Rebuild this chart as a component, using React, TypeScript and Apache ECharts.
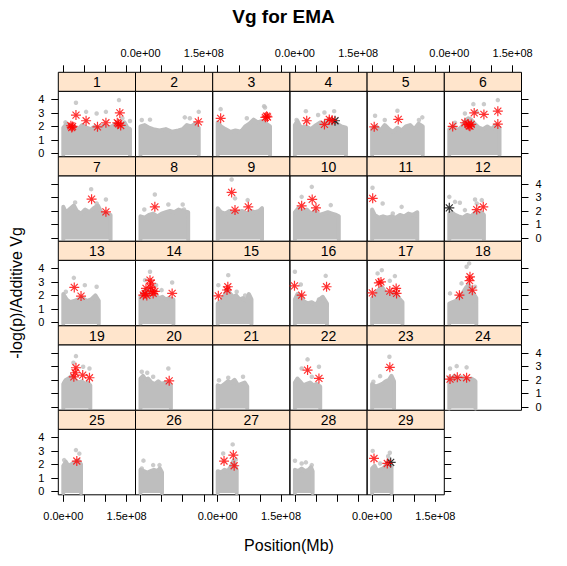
import React, { useEffect, useRef } from "react";
import * as echarts from "echarts";

// ---------------- data (positions in Mb, values are -log10(p)) ----------------
const chromosomes = ["1","2","3","4","5","6","7","8","9","10","11","12","13","14","15","16","17","18","19","20","21","22","23","24","25","26","27","28","29"];
const chrLengthMb = [158,138,124,121,120,119,112,113,105,104,107,82,84,78,80,76,72,64,64,72,70,60,52,62,42,51,45,42,46];

// top envelope of the dense cloud of SNPs, per chromosome
const massTop = [
  [[0,1.9],[8,2.2],[15,1.9],[25,2.0],[35,1.8],[45,2.1],[55,1.9],[65,1.8],[75,2.0],[85,1.8],[95,2.1],[105,1.9],[115,2.0],[125,2.2],[135,2.0],[145,2.3],[152,1.9],[158,1.8]],
  [[0,2.0],[10,2.1],[20,1.9],[30,1.8],[45,1.7],[60,1.8],[75,1.6],[90,1.7],[100,1.8],[110,2.1],[120,2.0],[130,2.2],[138,1.9]],
  [[0,2.3],[8,2.0],[18,1.8],[30,1.6],[42,1.7],[55,1.6],[65,2.0],[75,2.2],[85,2.5],[95,2.3],[105,2.4],[115,2.2],[124,2.0]],
  [[0,2.1],[6,2.4],[14,1.9],[25,2.0],[38,1.8],[50,2.1],[60,2.3],[70,2.2],[80,2.5],[90,2.4],[100,2.2],[110,2.0],[121,1.9]],
  [[0,1.8],[10,2.0],[20,1.7],[30,2.1],[40,1.8],[50,1.6],[60,1.9],[70,1.7],[80,2.0],[90,2.1],[100,1.8],[110,2.2],[120,2.0]],
  [[0,1.8],[10,2.0],[20,1.7],[30,2.0],[38,2.4],[45,2.6],[52,2.5],[60,2.2],[70,1.9],[80,1.8],[90,2.0],[100,1.8],[110,2.1],[119,1.9]],
  [[0,2.3],[6,1.9],[14,2.1],[25,2.4],[32,2.0],[42,1.8],[52,2.1],[62,1.9],[72,2.2],[82,2.4],[90,1.9],[100,1.8],[112,1.7]],
  [[0,1.6],[10,1.5],[20,1.7],[30,1.8],[40,1.6],[50,1.8],[60,1.9],[70,2.0],[80,1.9],[90,2.1],[100,2.0],[113,1.9]],
  [[0,2.2],[8,1.9],[18,1.8],[28,2.0],[38,1.8],[48,1.9],[58,2.0],[68,1.8],[78,2.0],[88,1.9],[98,2.0],[105,2.2]],
  [[0,1.9],[8,2.2],[18,2.0],[28,2.1],[38,1.8],[48,2.0],[58,1.7],[68,1.8],[78,1.9],[88,1.8],[98,1.7],[104,1.6]],
  [[0,2.1],[6,1.7],[16,1.5],[26,1.6],[36,1.5],[46,1.6],[56,1.5],[66,1.7],[76,1.6],[86,1.8],[96,1.7],[107,1.9]],
  [[0,1.8],[6,1.9],[14,1.7],[22,1.6],[32,1.5],[42,1.7],[52,1.6],[62,1.9],[70,1.8],[76,1.9],[82,1.7]],
  [[0,2.1],[8,1.7],[16,1.5],[26,1.6],[36,1.7],[46,1.8],[56,1.6],[66,1.7],[76,2.0],[84,1.6]],
  [[0,1.9],[6,2.2],[12,2.4],[18,2.3],[24,2.5],[30,2.2],[36,2.0],[44,1.8],[52,1.9],[60,1.7],[68,1.8],[78,1.7]],
  [[0,1.4],[8,1.6],[16,2.0],[22,2.4],[28,2.2],[36,1.9],[44,2.0],[52,1.7],[60,1.8],[68,1.6],[74,2.1],[80,1.7]],
  [[0,1.7],[6,2.1],[12,2.0],[20,1.6],[30,1.4],[40,1.5],[50,1.3],[58,1.7],[66,1.9],[72,1.6],[76,1.4]],
  [[0,1.8],[6,1.9],[12,2.3],[18,2.5],[24,2.6],[30,2.3],[38,2.0],[46,2.1],[54,2.2],[60,2.0],[66,1.7],[72,1.5]],
  [[0,1.4],[8,1.5],[16,1.6],[24,1.9],[32,2.2],[40,2.6],[46,2.8],[52,2.4],[58,2.1],[64,1.8]],
  [[0,1.7],[6,2.0],[12,2.1],[20,2.3],[28,2.0],[36,1.8],[44,1.9],[52,1.7],[58,1.8],[64,1.6]],
  [[0,2.1],[6,2.3],[12,2.0],[18,2.1],[26,1.8],[34,1.7],[42,1.9],[50,1.7],[58,1.8],[66,1.7],[72,1.6]],
  [[0,1.6],[8,1.5],[16,1.7],[24,1.9],[32,1.8],[40,2.0],[48,1.6],[56,1.7],[64,1.8],[70,1.5]],
  [[0,1.8],[6,2.1],[12,1.9],[20,1.6],[28,1.7],[36,1.8],[44,1.6],[52,1.7],[60,1.5]],
  [[0,1.7],[8,1.5],[16,1.6],[24,1.7],[32,1.9],[40,2.0],[46,2.3],[52,1.9]],
  [[0,2.2],[6,2.1],[12,2.3],[20,2.0],[28,2.2],[36,2.1],[44,2.0],[52,2.1],[58,2.0],[62,1.9]],
  [[0,1.9],[6,2.2],[12,1.9],[18,2.0],[24,2.1],[30,2.2],[36,2.3],[42,2.0]],
  [[0,1.6],[8,1.5],[16,1.4],[24,1.5],[32,1.6],[40,1.5],[46,1.7],[51,1.4]],
  [[0,1.5],[8,1.4],[16,1.6],[24,1.5],[32,1.9],[38,2.3],[45,1.6]],
  [[0,1.6],[8,1.5],[16,1.7],[24,1.5],[32,1.6],[38,1.8],[42,1.5]],
  [[0,1.7],[6,1.9],[12,1.5],[18,1.6],[26,1.7],[34,2.0],[40,2.3],[46,1.9]],
];

// isolated grey SNPs above the cloud
const outlierPts = [
  [[30,3.75],[132,3.95],[54,3.08],[79,2.96],[101,3.08],[158,2.4],[5,2.3],[140,2.6]],
  [[3,2.47],[22.5,2.5],[105,2.67],[117,2.6],[138,3.08]],
  [[7,3.28],[110,3.5],[112,3.4],[69,2.6]],
  [[26,3.13],[70,3.03],[93,3.13],[4,2.47],[55,2.84]],
  [[7,2.79],[30,2.47],[60,3.16],[111,2.47],[119,2.67]],
  [[37,2.96],[57,3.65],[82,3.65],[115,3.95],[13.5,2.27],[65,3.08]],
  [[66,3.61],[101,2.85],[79,2.55],[28,2.63]],
  [[34,3.22],[66,2.48],[100,2.48],[9,2.1],[103,2.1]],
  [[33,4.33],[41,2.93],[71,2.8]],
  [[16,3.04],[40,3.78],[85,2.43]],
  [[1,3.71],[25,2.55],[49,1.81],[70,2.3],[106,1.69]],
  [[0,3.04],[13.5,2.67],[25,2.6],[37,2.06],[61,2.85],[65,2.55],[77,2.8]],
  [[25,3.3],[6,2.27],[79,2.64],[51,2.76]],
  [[22.5,3.75],[10.7,3.13],[37,2.76],[50,2.39],[75,2.96]],
  [[25,3.5],[1.5,2.76],[45,2.27],[65,2.0]],
  [[0,3.75],[14,2.81],[73,3.45],[57,1.7]],
  [[23,3.87],[13,3.63],[42,3.08],[54,3.43]],
  [[47,4.37],[41,4.12],[29,2.89],[1.7,2.15],[61,2.64]],
  [[30,3.76],[24,3.27],[47,2.97],[62,2.85],[4,1.86]],
  [[3,2.6],[16,2.53],[66,2.85],[30,2.23]],
  [[3,1.98],[25,2.16],[60,2.23]],
  [[30,3.52],[16,2.85],[57,2.97],[40,2.23]],
  [[41,3.71],[19,2.28],[3,1.86]],
  [[17.5,3.02],[41,2.93],[1.7,2.85]],
  [[30,3.06],[2,2.32],[38,2.8]],
  [[7,2.28],[30,1.95],[45,1.95],[3,1.7]],
  [[35.5,3.48],[13,2.81],[43,2.37]],
  [[0.2,2.27],[16,2.07],[26,2.15],[40,1.95]],
  [[1.4,3.0],[19,2.07],[42,2.86],[38,2.6]],
];

// significant SNPs (red stars)
const starPts = [
  [[30,2.84],[18,2.05],[20,1.92],[22,2.0],[54,2.42],[81,1.97],[101,2.27],[128,2.27],[131,2.2],[134,3.0],[136,2.07]],
  [[137,2.34]],
  [[7,2.6],[113,2.67],[116,2.76],[118,2.7]],
  [[28,2.42],[70,2.15],[81.5,2.52],[88,2.45]],
  [[5,1.97],[62,2.52]],
  [[8,2.0],[37,2.27],[45,2.15],[47,2.05],[49,2.02],[52,2.15],[59,3.0],[82,2.89],[115,3.13],[115,2.17]],
  [[67,2.87],[101,1.93]],
  [[34,2.3]],
  [[33,3.37],[41,2.06],[72.5,2.3]],
  [[16,2.38],[41,2.85],[50,2.23]],
  [[1.4,2.93]],
  [[65,2.1],[80.5,2.3]],
  [[26,2.59],[42,1.95]],
  [[6.6,2.02],[11,2.15],[13,2.52],[15,2.0],[22.5,3.13],[24,2.6],[25,2.9],[29,2.32],[30,2.15],[34,2.3],[75,2.15]],
  [[1.5,1.97],[22,2.4],[24,2.64]],
  [[-1,2.71],[16,2.02],[75,2.64]],
  [[0.5,2.19],[16,2.93],[21,3.0],[42,2.32],[57,2.52],[58,2.15]],
  [[24,2.02],[48,3.1],[49,3.38],[54.5,2.39]],
  [[25,2.23],[28,2.53],[30,2.9],[46,2.36],[62,2.16]],
  [[68,1.93]],
  [],
  [[30,2.73],[57,2.11]],
  [[42,2.93]],
  [[1.7,2.06],[19,2.19],[41,2.16]],
  [[32,2.25]],
  [],
  [[15,2.25],[37,2.69],[39,1.9]],
  [],
  [[4.5,2.44],[36,2.07]],
];

// black stars: [chromosome, Mb, value]
const blackStarPts = [["4",95,2.42],["12",0,2.23],["29",44,2.15]];

const xTicksMb = [0, 50, 100, 150];
const xLabelTicksMb = [0, 150];
const yTicks = [0, 1, 2, 3, 4];

const titleText = "Vg for EMA";
const xTitle = "Position(Mb)";
const yTitle = "-log(p)/Additive Vg";

// ---------------- styling / layout ----------------
const FONT = '"Liberation Sans", Arial, Helvetica, sans-serif';
const GRAY = "#BEBEBE";
const RED = "#FF0000";
const STRIP = "#FFE5CC";
const STAR = "path://M5,0L5,10M0,5L10,5M1.5,1.5L8.5,8.5M1.5,8.5L8.5,1.5";

const NCOL = 6;
const PANEL_W = 77.2;
const BODY_H = 65.5;
const STRIP_H = 19;
const ROW_STEP = 84.5;
const LEFT0 = 58.3;
const TOP0 = 72.3;

function sci(vMb: number): string {
  const s = (vMb * 1e6).toExponential(1);
  return s.replace(/e([+-])(\d)$/, "e$10$2");
}

function buildOption() {
  const grid: any[] = [];
  const xAxis: any[] = [];
  const yAxis: any[] = [];
  const series: any[] = [];
  const graphic: any[] = [];
  const n = chromosomes.length;
  const lastRow = Math.floor((n - 1) / NCOL);

  chromosomes.forEach((name, i) => {
    const r = Math.floor(i / NCOL);
    const c = i % NCOL;
    const left = LEFT0 + PANEL_W * c;
    const stripTop = TOP0 + ROW_STEP * r;
    const top = stripTop + STRIP_H;

    grid.push({
      left, top, width: PANEL_W, height: BODY_H,
      show: true, borderColor: "#000", borderWidth: 1, backgroundColor: "transparent",
    });

    const isTop = r === 0;
    const isBottom = r === lastRow;
    const showXTick = isTop || isBottom;
    const showXLab = (isTop && c % 2 === 1) || (isBottom && c % 2 === 0);
    xAxis.push({
      type: "value", gridIndex: i, min: -11.85, max: 171.1,
      position: isTop ? "top" : "bottom",
      offset: isTop ? STRIP_H : 0,
      axisLine: { show: false, onZero: false }, splitLine: { show: false },
      axisTick: { show: showXTick, inside: false, length: 7, customValues: xTicksMb, lineStyle: { color: "#000", width: 1 } },
      axisLabel: {
        show: showXLab, customValues: xLabelTicksMb, formatter: (v: number) => sci(v),
        margin: isTop ? 14 : 16, fontSize: 11, color: "#000", fontFamily: FONT,
      },
    });

    const isLeft = c === 0;
    const isRight = c === NCOL - 1 || i === n - 1;
    const showYTick = isLeft || isRight;
    const showYLab = (isLeft && r % 2 === 0) || (isRight && r % 2 === 1);
    yAxis.push({
      type: "value", gridIndex: i, min: -0.25, max: 4.6,
      position: isLeft ? "left" : "right",
      axisLine: { show: false, onZero: false }, splitLine: { show: false },
      axisTick: { show: showYTick, inside: false, length: 7, customValues: yTicks, lineStyle: { color: "#000", width: 1 } },
      axisLabel: {
        show: showYLab, customValues: yTicks,
        margin: 14, fontSize: 11, color: "#000", fontFamily: FONT,
        align: isLeft ? "right" : "left",
      },
    });

    const L = chrLengthMb[i];
    series.push({
      type: "line", xAxisIndex: i, yAxisIndex: i, silent: true, z: 1,
      symbol: "none",
      data: [[0, -0.12], ...massTop[i], [L, -0.12]],
      lineStyle: { color: GRAY, width: 4, cap: "round", join: "round" },
      areaStyle: { color: GRAY, opacity: 1, origin: -0.12 },
    });
    series.push({
      type: "scatter", xAxisIndex: i, yAxisIndex: i, silent: true, z: 2,
      symbol: "circle", symbolSize: 4.5,
      data: outlierPts[i],
      itemStyle: { color: GRAY },
    });
    const blacks = blackStarPts.filter((b) => b[0] === name).map((b) => [b[1], b[2]]);
    if (blacks.length) {
      series.push({
        type: "scatter", xAxisIndex: i, yAxisIndex: i, silent: true, z: 3,
        symbol: STAR, symbolSize: 10, data: blacks,
        itemStyle: { color: "#000", borderColor: "#000", borderWidth: 1.2 },
      });
    }
    series.push({
      type: "scatter", xAxisIndex: i, yAxisIndex: i, silent: true, z: 4,
      symbol: STAR, symbolSize: 10, data: starPts[i],
      itemStyle: { color: RED, borderColor: RED, borderWidth: 1.2 },
    });

    graphic.push({
      type: "rect", silent: true, z: 10,
      shape: { x: left, y: stripTop, width: PANEL_W, height: STRIP_H },
      style: { fill: STRIP, stroke: "#000", lineWidth: 1 },
    });
    graphic.push({
      type: "text", silent: true, z: 11,
      x: left + PANEL_W / 2, y: stripTop + STRIP_H / 2 + 0.5,
      style: { text: name, align: "center", verticalAlign: "middle", font: `14px ${FONT}`, fill: "#000" },
    });
  });

  graphic.push({
    type: "text", silent: true, x: 283.5, y: 16,
    style: { text: titleText, align: "center", verticalAlign: "middle", font: `bold 19px ${FONT}`, fill: "#000" },
  });
  graphic.push({
    type: "text", silent: true, x: 289, y: 545,
    style: { text: xTitle, align: "center", verticalAlign: "middle", font: `16px ${FONT}`, fill: "#000" },
  });
  graphic.push({
    type: "text", silent: true, x: 16, y: 293, rotation: Math.PI / 2,
    style: { text: yTitle, align: "center", verticalAlign: "middle", font: `16px ${FONT}`, fill: "#000" },
  });

  return {
    animation: false,
    backgroundColor: "#fff",
    grid, xAxis, yAxis, series, graphic,
  };
}

export default function App() {
  const ref = useRef<HTMLDivElement>(null);
  useEffect(() => {
    if (!ref.current) return;
    const chart = echarts.init(ref.current, undefined, { renderer: "svg" });
    chart.setOption(buildOption() as any);
    return () => chart.dispose();
  }, []);
  return (
    <div
      ref={ref}
      style={{ position: "fixed", left: 0, top: 0, width: 567, height: 566, background: "#fff" }}
    />
  );
}
